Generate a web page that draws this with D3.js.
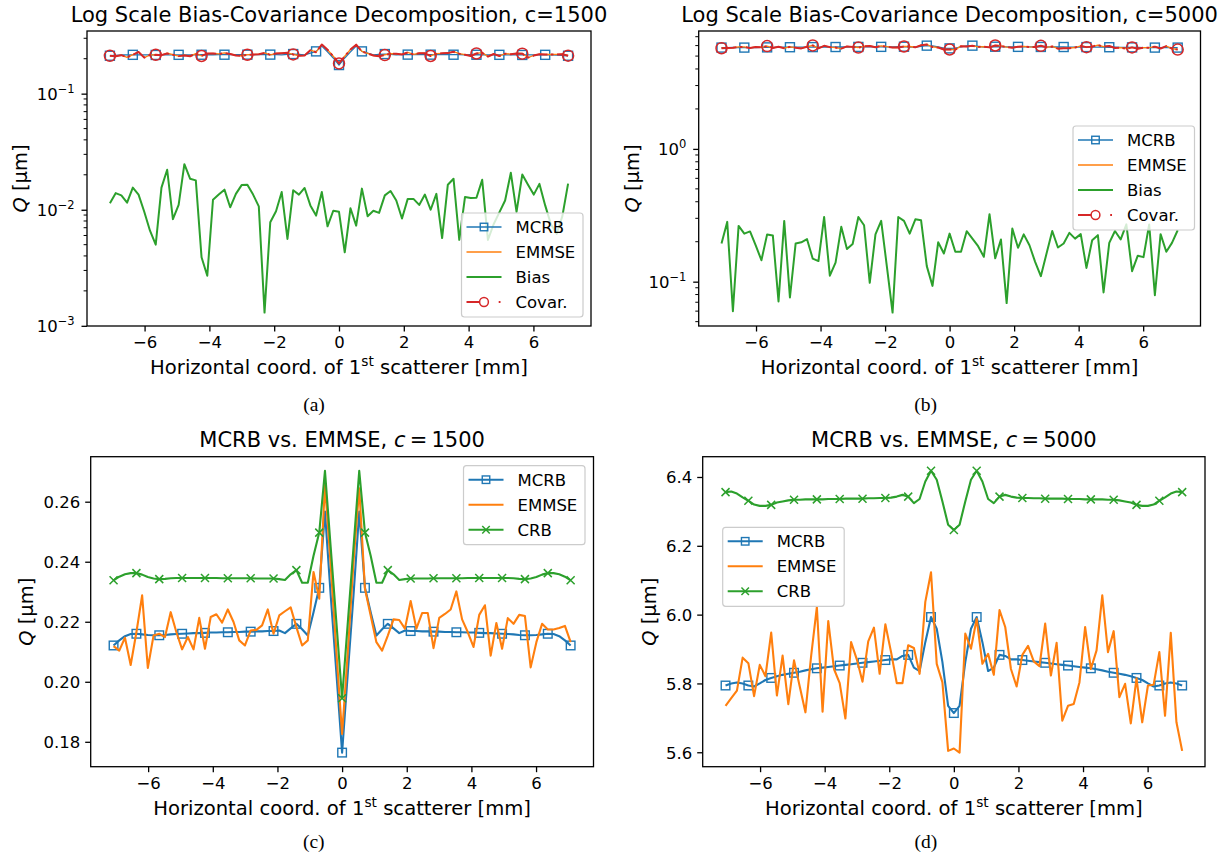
<!DOCTYPE html>
<html><head><meta charset="utf-8">
<script src="https://cdn.jsdelivr.net/npm/d3@7"></script>
<style>
body{margin:0;background:#fff}
svg{display:block;background:#fff}
</style>
</head><body>
<svg id="fig" width="1228" height="858"></svg>
<script>
// ---------------- DATA ----------------
const xCoords = [-7.070,-6.893,-6.717,-6.540,-6.363,-6.186,-6.010,-5.833,-5.656,-5.479,
-5.303,-5.126,-4.949,-4.772,-4.596,-4.419,-4.242,-4.065,-3.889,-3.712,
-3.535,-3.358,-3.182,-3.005,-2.828,-2.651,-2.475,-2.298,-2.121,-1.944,
-1.768,-1.591,-1.414,-1.237,-1.061,-0.884,-0.707,-0.530,-0.354,-0.177,
0.000,0.177,0.354,0.530,0.707,0.884,1.061,1.237,1.414,1.591,
1.768,1.944,2.121,2.298,2.475,2.651,2.828,3.005,3.182,3.358,
3.535,3.712,3.889,4.065,4.242,4.419,4.596,4.772,4.949,5.126,
5.303,5.479,5.656,5.833,6.010,6.186,6.363,6.540,6.717,6.893,7.070];

// c = 1500
const mcrb1500 = [0.2121,0.2138,0.2152,0.2159,0.2160,0.2158,0.2156,0.2155,0.2155,0.2156,
0.2158,0.2159,0.2160,0.2161,0.2162,0.2162,0.2163,0.2164,0.2164,0.2165,
0.2165,0.2166,0.2166,0.2167,0.2167,0.2168,0.2168,0.2169,0.2169,0.2171,
0.2162,0.2178,0.2193,0.2175,0.2154,0.2232,0.2313,0.2567,0.2290,0.2030,
0.1764,
0.2030,0.2290,0.2567,0.2313,0.2232,0.2154,0.2175,0.2193,0.2178,0.2162,
0.2171,0.2169,0.2169,0.2168,0.2168,0.2167,0.2167,0.2166,0.2166,0.2165,
0.2165,0.2164,0.2164,0.2163,0.2162,0.2162,0.2161,0.2160,0.2159,0.2158,
0.2156,0.2155,0.2155,0.2156,0.2158,0.2160,0.2159,0.2152,0.2138,0.2121];

const emmse1500 = [0.2119,0.2104,0.2147,0.2056,0.2165,0.2288,0.2046,0.2154,0.2160,0.2149,
0.2232,0.2165,0.2108,0.2149,0.2108,0.2213,0.2110,0.2216,0.2225,0.2197,
0.2241,0.2199,0.2138,0.2121,0.2171,0.2173,0.2188,0.2241,0.2160,0.2221,
0.2235,0.2248,0.2182,0.2121,0.2138,0.2366,0.2277,0.2656,0.2390,0.2100,
0.1826,0.2100,0.2400,0.2645,0.2310,0.2221,0.2132,0.2104,0.2154,0.2208,
0.2206,0.2177,0.2269,0.2177,0.2229,0.2229,0.2112,0.2213,0.2226,0.2241,
0.2301,0.2208,0.2165,0.2116,0.2223,0.2255,0.2087,0.2196,0.2110,0.2212,
0.2193,0.2223,0.2219,0.2048,0.2132,0.2193,0.2174,0.2174,0.2179,0.2186,
0.2132];

const crb1500 = [0.2338,0.2350,0.2358,0.2362,0.2362,0.2357,0.2349,0.2344,0.2342,0.2343,
0.2345,0.2346,0.2346,0.2346,0.2346,0.2346,0.2346,0.2346,0.2346,0.2345,
0.2345,0.2345,0.2345,0.2345,0.2345,0.2344,0.2344,0.2344,0.2344,0.2342,
0.2339,0.2358,0.2372,0.2330,0.2330,0.2420,0.2497,0.2703,0.2450,0.2198,
0.1945,
0.2198,0.2450,0.2703,0.2497,0.2420,0.2330,0.2330,0.2372,0.2358,0.2339,
0.2342,0.2344,0.2344,0.2344,0.2344,0.2345,0.2345,0.2345,0.2345,0.2345,
0.2345,0.2346,0.2346,0.2346,0.2346,0.2346,0.2346,0.2346,0.2346,0.2345,
0.2343,0.2342,0.2344,0.2349,0.2357,0.2362,0.2362,0.2358,0.2350,0.2338];

const bias1500 = [0.0114,0.0139,0.0133,0.0115,0.0155,0.0135,0.0096,0.0066,0.0050,0.0155,
0.0221,0.0083,0.0110,0.0247,0.0185,0.0179,0.0039,0.0027,0.0122,0.0135,
0.0149,0.0105,0.0137,0.0163,0.0164,0.0135,0.0107,0.0013,0.0078,0.0097,
0.0142,0.0056,0.0147,0.0135,0.0154,0.0109,0.0089,0.0142,0.0072,0.0098,
0.0096,0.0043,0.0103,0.0073,0.0152,0.0088,0.0098,0.0094,0.0133,0.0145,
0.0120,0.0084,0.0124,0.0124,0.0110,0.0135,0.0100,0.0137,0.0057,0.0164,
0.0185,0.0055,0.0129,0.0126,0.0127,0.0181,0.0055,0.0075,0.0095,0.0120,
0.0208,0.0096,0.0201,0.0164,0.0135,0.0167,0.0109,0.0075,0.0062,0.0088,
0.0168];

const covar1500 = [0.2117,0.2102,0.2145,0.2054,0.2163,0.2286,0.2044,0.2153,0.2159,0.2147,
0.2221,0.2163,0.2105,0.2135,0.2100,0.2206,0.2110,0.2216,0.2222,0.2193,
0.2236,0.2197,0.2134,0.2115,0.2165,0.2169,0.2185,0.2241,0.2159,0.2219,
0.2231,0.2247,0.2177,0.2117,0.2133,0.2363,0.2275,0.2652,0.2389,0.2098,
0.1823,0.2099,0.2398,0.2643,0.2305,0.2219,0.2130,0.2102,0.2150,0.2203,
0.2203,0.2175,0.2265,0.2173,0.2226,0.2225,0.2110,0.2209,0.2225,0.2235,
0.2293,0.2207,0.2161,0.2112,0.2219,0.2248,0.2086,0.2195,0.2108,0.2209,
0.2183,0.2221,0.2210,0.2042,0.2128,0.2187,0.2171,0.2173,0.2178,0.2184,
0.2125];

// c = 5000
const mcrb5000 = [5.794,5.800,5.803,5.800,5.794,5.791,5.800,5.810,5.816,5.821,
5.825,5.828,5.831,5.834,5.838,5.841,5.844,5.846,5.848,5.850,
5.852,5.854,5.856,5.858,5.860,5.862,5.864,5.866,5.868,5.870,
5.870,5.880,5.883,5.846,5.836,5.920,5.993,5.959,5.862,5.735,
5.714,
5.735,5.862,5.959,5.993,5.920,5.836,5.846,5.883,5.880,5.870,
5.870,5.868,5.866,5.864,5.862,5.860,5.858,5.856,5.854,5.852,
5.850,5.848,5.846,5.844,5.841,5.838,5.834,5.831,5.828,5.825,
5.821,5.816,5.810,5.800,5.791,5.794,5.800,5.803,5.800,5.794];

const emmse5000 = [5.735,5.757,5.779,5.875,5.859,5.763,5.854,5.821,5.948,5.765,
5.881,5.740,5.867,5.791,5.716,5.880,6.022,5.718,5.981,5.842,
5.801,5.698,5.920,5.870,5.805,5.922,5.962,5.828,5.972,5.891,
5.801,5.801,5.911,5.903,5.828,6.037,6.123,5.857,5.803,5.604,
5.611,5.599,5.945,5.901,5.988,5.857,5.886,5.825,6.013,5.964,
5.842,5.791,5.883,5.909,5.864,5.850,5.974,5.823,5.918,5.692,
5.735,5.740,5.803,5.964,5.842,5.896,6.056,5.891,5.952,5.760,
5.799,5.684,5.815,5.687,5.794,5.796,5.891,5.706,5.947,5.687,
5.604];

const crb5000 = [6.356,6.358,6.352,6.341,6.331,6.320,6.316,6.316,6.319,6.326,
6.329,6.332,6.334,6.334,6.335,6.335,6.335,6.335,6.336,6.336,
6.336,6.337,6.337,6.337,6.337,6.338,6.338,6.339,6.339,6.340,
6.343,6.348,6.343,6.324,6.336,6.387,6.418,6.392,6.329,6.261,
6.246,
6.261,6.329,6.392,6.418,6.387,6.336,6.324,6.343,6.348,6.343,
6.340,6.339,6.339,6.338,6.338,6.337,6.337,6.337,6.337,6.336,
6.336,6.336,6.335,6.335,6.335,6.335,6.334,6.334,6.332,6.329,
6.326,6.319,6.316,6.316,6.320,6.331,6.341,6.352,6.358,6.356];

const bias5000 = [0.194,0.282,0.060,0.263,0.230,0.239,0.188,0.145,0.227,0.223,
0.071,0.287,0.076,0.194,0.198,0.209,0.149,0.143,0.307,0.111,
0.139,0.259,0.176,0.192,0.307,0.266,0.098,0.227,0.287,0.130,
0.0585,0.307,0.287,0.230,0.295,0.290,0.131,0.093,0.198,0.163,
0.230,0.168,0.168,0.240,0.211,0.185,0.154,0.322,0.150,0.208,
0.069,0.251,0.180,0.227,0.188,0.141,0.110,0.163,0.241,0.181,
0.194,0.233,0.211,0.228,0.127,0.205,0.224,0.083,0.196,0.241,
0.208,0.270,0.120,0.157,0.153,0.270,0.079,0.228,0.168,0.196,
0.244];

const covar5000 = [5.732,5.750,5.779,5.869,5.854,5.758,5.851,5.819,5.944,5.761,
5.881,5.733,5.867,5.788,5.713,5.876,6.019,5.716,5.973,5.841,
5.799,5.692,5.917,5.867,5.797,5.916,5.961,5.824,5.965,5.890,
5.801,5.793,5.904,5.898,5.821,6.030,6.122,5.856,5.800,5.602,
5.606,5.597,5.943,5.896,5.984,5.854,5.884,5.816,6.011,5.960,
5.842,5.786,5.880,5.905,5.861,5.848,5.973,5.821,5.913,5.689,
5.732,5.735,5.799,5.960,5.841,5.892,6.052,5.890,5.949,5.755,
5.795,5.678,5.814,5.685,5.790,5.790,5.890,5.702,5.945,5.684,
5.599];

const xTicks = [-6,-4,-2,0,2,4,6];
const yTicksLog1500 = [1e-3,1e-2,1e-1];
const yTicksLog5000 = [1e-1,1e0];
const yTicksLin1500 = [0.18,0.20,0.22,0.24,0.26];
const yTicksLin5000 = [5.6,5.8,6.0,6.2,6.4];
const seriesNamesTop = ["MCRB","EMMSE","Bias","Covar."];
const seriesNamesBottom = ["MCRB","EMMSE","CRB"];

// ---------------- DRAWING ----------------
const C = {blue:"#1f77b4", orange:"#ff7f0e", green:"#2ca02c", red:"#d62728"};
const FONT = '"DejaVu Sans", sans-serif';
const svg = d3.select("#fig");
const MINUS = "\u2212";
let clipN = 0;

function drawMarker(g, type, cx, cy, color, size){
  if(type==="s"){
    g.append("rect").attr("x",cx-size/2).attr("y",cy-size/2).attr("width",size).attr("height",size)
     .attr("fill","none").attr("stroke",color).attr("stroke-width",1.4);
  } else if(type==="o"){
    g.append("circle").attr("cx",cx).attr("cy",cy).attr("r",size/2)
     .attr("fill","none").attr("stroke",color).attr("stroke-width",1.5);
  } else if(type==="x"){
    const h=size/2;
    g.append("path").attr("d",`M${cx-h},${cy-h}L${cx+h},${cy+h}M${cx-h},${cy+h}L${cx+h},${cy-h}`)
     .attr("stroke",color).attr("stroke-width",1.5).attr("fill","none");
  }
}

function drawPanel(o){
  const g = svg.append("g");
  const x = d3.scaleLinear().domain([-7.777,7.777]).range([o.l,o.r]);
  const all = o.series.flatMap(s=>s.values);
  const mn = d3.min(all), mx = d3.max(all);
  let y;
  if(o.log){
    const a=Math.log10(mn), b=Math.log10(mx), m=(b-a)*0.05;
    y = d3.scaleLog().domain([Math.pow(10,a-m),Math.pow(10,b+m)]).range([o.b,o.t]);
  } else {
    const m=(mx-mn)*0.05;
    y = d3.scaleLinear().domain([mn-m,mx+m]).range([o.b,o.t]);
  }
  const cid = "clip"+(clipN++);
  g.append("clipPath").attr("id",cid).append("rect")
    .attr("x",o.l).attr("y",o.t).attr("width",o.r-o.l).attr("height",o.b-o.t);
  const plot = g.append("g").attr("clip-path",`url(#${cid})`);
  const line = d3.line().x((d,i)=>x(xCoords[i])).y(d=>y(d));
  o.series.forEach(s=>{
    const sg = plot.append("g");
    const p = sg.append("path").attr("d",line(s.values)).attr("fill","none")
      .attr("stroke",s.color).attr("stroke-width",s.lw).attr("stroke-linejoin","round");
    if(s.dash) p.attr("stroke-dasharray",s.dash);
    if(s.marker){
      s.values.forEach((v,i)=>{ if(i%s.every===0) drawMarker(sg,s.marker,x(xCoords[i]),y(v),s.color,s.msize); });
    }
  });
  // x axis ticks
  const xa = g.append("g").attr("transform",`translate(0,${o.b})`)
    .call(d3.axisBottom(x).tickValues(xTicks).tickSize(5.5).tickPadding(5)
      .tickFormat(d=> d<0 ? MINUS+Math.abs(d) : String(d)));
  xa.select(".domain").remove();
  xa.attr("font-family",null).attr("font-size",null);
  xa.selectAll("line").attr("stroke","#000").attr("stroke-width",1.3);
  xa.selectAll("text").attr("fill","#000").style("font-family",FONT).style("font-size","16.5px");
  // y axis
  if(o.log){
    const ya = g.append("g").attr("transform",`translate(${o.l},0)`)
      .call(d3.axisLeft(y).tickValues(o.yTicks).tickSize(5.5).tickFormat(()=>""));
    ya.select(".domain").remove();
    ya.selectAll("line").attr("stroke","#000").attr("stroke-width",1.3);
    ya.selectAll("text").remove();
    const dom = y.domain();
    const minor = [];
    for(let k=-5;k<=2;k++) for(let m=2;m<=9;m++){ const v=m*Math.pow(10,k); if(v>=dom[0]&&v<=dom[1]) minor.push(v); }
    g.selectAll(null).data(minor).enter().append("line")
      .attr("x1",o.l-3.4).attr("x2",o.l).attr("y1",d=>y(d)).attr("y2",d=>y(d))
      .attr("stroke","#000").attr("stroke-width",1.0);
    o.yTicks.forEach(v=>{
      const e = Math.round(Math.log10(v));
      const t = g.append("text").attr("x",o.l-12.3).attr("y",y(v)+6).attr("text-anchor","end")
        .style("font-family",FONT).style("font-size","16.5px").attr("fill","#000");
      t.append("tspan").text("10");
      t.append("tspan").attr("dy",-6.5).style("font-size","11.5px").text(e<0 ? MINUS+Math.abs(e) : String(e));
    });
  } else {
    const ya = g.append("g").attr("transform",`translate(${o.l},0)`)
      .call(d3.axisLeft(y).tickValues(o.yTicks).tickSize(5.5).tickPadding(5).tickFormat(d3.format(o.fmt)));
    ya.select(".domain").remove();
    ya.attr("font-family",null).attr("font-size",null);
    ya.selectAll("line").attr("stroke","#000").attr("stroke-width",1.3);
    ya.selectAll("text").attr("fill","#000").attr("dy",null).attr("y",6).style("font-family",FONT).style("font-size","16.5px");
  }
  // spines
  g.append("rect").attr("x",o.l).attr("y",o.t).attr("width",o.r-o.l).attr("height",o.b-o.t)
    .attr("fill","none").attr("stroke","#000").attr("stroke-width",1.3);
  // title
  const tt = g.append("text").attr("x",(o.l+o.r)/2).attr("y",o.titleY).attr("text-anchor","middle")
    .style("font-family",FONT).style("font-size","21px").attr("fill","#000");
  o.title.forEach(p=>{ const sp=tt.append("tspan").text(p.t); if(p.i) sp.style("font-style","italic"); });
  // x label
  const xl = g.append("text").attr("x",(o.l+o.r)/2).attr("y",o.b+47.8).attr("text-anchor","middle")
    .style("font-family",FONT).style("font-size","19.6px").attr("fill","#000");
  xl.append("tspan").text("Horizontal coord. of 1");
  xl.append("tspan").attr("dy",-7.5).style("font-size","13.7px").text("st");
  xl.append("tspan").attr("dy",7.5).text("\u00a0scatterer [mm]");
  // y label
  const yl = g.append("text").attr("transform",`translate(${o.ylx},${(o.t+o.b)/2}) rotate(-90)`)
    .attr("text-anchor","middle").style("font-family",FONT).style("font-size","19.5px").attr("fill","#000");
  yl.append("tspan").style("font-style","italic").text("Q");
  yl.append("tspan").text("\u00a0[\u00b5m]");
  // legend
  const lg = g.append("g");
  const n = o.series.length;
  lg.append("rect").attr("x",o.lx).attr("y",o.ly).attr("width",121.5).attr("height",25*n+4)
    .attr("rx",3).attr("fill","#fff").attr("fill-opacity",0.8).attr("stroke","#cccccc").attr("stroke-width",1.2);
  o.series.forEach((s,k)=>{
    const cy = o.ly+14+25*k;
    const x0 = o.lx+5, x1 = o.lx+40, xc=(x0+x1)/2;
    if(s.marker==="o"){
      lg.append("line").attr("x1",x0).attr("x2",xc-4.4).attr("y1",cy).attr("y2",cy).attr("stroke",s.color).attr("stroke-width",s.lw);
      lg.append("rect").attr("x",x1-2.8).attr("y",cy-1).attr("width",1.8).attr("height",2).attr("fill",s.color);
      drawMarker(lg,"o",xc,cy,s.color,8.8);
    } else {
      lg.append("line").attr("x1",x0).attr("x2",x1).attr("y1",cy).attr("y2",cy).attr("stroke",s.color).attr("stroke-width",s.lw);
      if(s.marker) drawMarker(lg,s.marker,xc,cy,s.color,7.5);
    }
    lg.append("text").attr("x",o.lx+54).attr("y",cy+6).text(s.name)
      .style("font-family",FONT).style("font-size","16.5px").attr("fill","#000");
  });
  // caption
  svg.append("text").attr("x",o.capX).attr("y",o.capY).attr("text-anchor","middle")
    .style("font-family",'"Liberation Serif", "Times New Roman", serif').style("font-size","19.5px").attr("fill","#000").text(o.caption);
}

drawPanel({
  l:87, r:591, t:31, b:326, log:true, yTicks:yTicksLog1500,
  title:[{t:"Log Scale Bias-Covariance Decomposition, c=1500"}], titleY:22, ylx:26.7,
  series:[
    {name:seriesNamesTop[0], values:mcrb1500, color:C.blue, lw:1.3, marker:"s", every:4, msize:9},
    {name:seriesNamesTop[1], values:emmse1500, color:C.orange, lw:1.3},
    {name:seriesNamesTop[2], values:bias1500, color:C.green, lw:2.0},
    {name:seriesNamesTop[3], values:covar1500, color:C.red, lw:2.0, marker:"o", every:8, msize:11, dash:"15,3.5,2.5,3.5"}
  ],
  lx:461.5, ly:213, caption:"(a)", capX:314, capY:411
});
drawPanel({
  l:698.7, r:1200.5, t:31, b:326, log:true, yTicks:yTicksLog5000,
  title:[{t:"Log Scale Bias-Covariance Decomposition, c=5000"}], titleY:22, ylx:639,
  series:[
    {name:seriesNamesTop[0], values:mcrb5000, color:C.blue, lw:1.3, marker:"s", every:4, msize:9},
    {name:seriesNamesTop[1], values:emmse5000, color:C.orange, lw:1.3},
    {name:seriesNamesTop[2], values:bias5000, color:C.green, lw:2.0},
    {name:seriesNamesTop[3], values:covar5000, color:C.red, lw:2.0, marker:"o", every:8, msize:11, dash:"15,3.5,2.5,3.5"}
  ],
  lx:1073, ly:126, caption:"(b)", capX:925.7, capY:411
});
drawPanel({
  l:90.7, r:593.5, t:456.7, b:766.7, log:false, yTicks:yTicksLin1500, fmt:".2f",
  title:[{t:"MCRB vs. EMMSE, "},{t:"c",i:true},{t:"\u2009=\u20091500"}], titleY:447.3, ylx:32.5,
  series:[
    {name:seriesNamesBottom[0], values:mcrb1500, color:C.blue, lw:2.1, marker:"s", every:4, msize:8.6},
    {name:seriesNamesBottom[1], values:emmse1500, color:C.orange, lw:2.1},
    {name:seriesNamesBottom[2], values:crb1500, color:C.green, lw:2.1, marker:"x", every:4, msize:8}
  ],
  lx:463.5, ly:465.7, caption:"(c)", capX:313.8, capY:848
});
drawPanel({
  l:702.7, r:1205, t:456.7, b:766.7, log:false, yTicks:yTicksLin5000, fmt:".1f",
  title:[{t:"MCRB vs. EMMSE, "},{t:"c",i:true},{t:"\u2009=\u20095000"}], titleY:447.3, ylx:656,
  series:[
    {name:seriesNamesBottom[0], values:mcrb5000, color:C.blue, lw:2.1, marker:"s", every:4, msize:8.6},
    {name:seriesNamesBottom[1], values:emmse5000, color:C.orange, lw:2.1},
    {name:seriesNamesBottom[2], values:crb5000, color:C.green, lw:2.1, marker:"x", every:4, msize:8}
  ],
  lx:722.7, ly:527.3, caption:"(d)", capX:925.8, capY:848
});
</script>
</body></html>
